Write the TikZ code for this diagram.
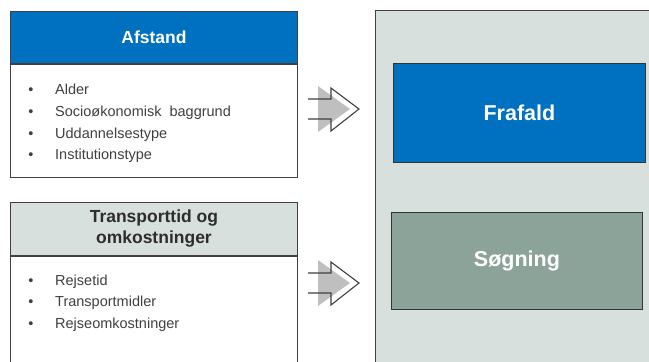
\documentclass[tikz,border=0pt]{standalone}
\usepackage{fontspec}
\setmainfont{Liberation Sans}
\usetikzlibrary{positioning,calc}
\definecolor{HeadBlue}{RGB}{0,112,192}
\definecolor{PaleGreen}{RGB}{216,224,221}
\definecolor{SageGray}{RGB}{140,163,154}
\definecolor{TextGray}{RGB}{64,64,64}
\definecolor{ShadeGray}{RGB}{191,191,191}
\tikzset{
  frame/.style={draw=TextGray,line width=0.9pt},
  head/.style={frame,anchor=north west,minimum width=287pt,inner sep=0pt,
    font=\fontsize{17.5}{21}\selectfont\bfseries,align=center},
  body/.style={frame,fill=white,anchor=north west,minimum width=287pt,inner sep=0pt},
  dot/.style={anchor=base,text=TextGray,inner sep=0pt,font=\fontsize{14.5}{17}\selectfont},
  item/.style={anchor=base west,text=TextGray,inner sep=0pt,font=\fontsize{14.5}{17}\selectfont},
  result/.style={draw=TextGray!80!black,line width=0.9pt,anchor=north west,inner sep=0pt,
    text=white,font=\fontsize{21.5}{25}\selectfont\bfseries},
  shade/.style={fill=ShadeGray},
  blockarrow/.style={draw=TextGray,line width=1.1pt,line join=miter},
}

\begin{document}
\begin{tikzpicture}[x=1pt,y=-1pt]
\useasboundingbox (0,0) rectangle (649,362);
\clip (0,0) rectangle (649,362);
\fill[white] (0,0) rectangle (649,362);
% right panel
\node[frame,fill=PaleGreen,anchor=north west,minimum width=290pt,minimum height=370pt,inner sep=0pt] (panel) at (375,10) {};
\node[result,fill=HeadBlue,minimum width=252pt,minimum height=99pt] (frafald) at (393,63) {Frafald};
\node[result,fill=SageGray,minimum width=251pt,minimum height=97pt] (soegning) at (391,212) {Søgning};
% left boxes
\node[head,fill=HeadBlue,text=white,minimum height=52pt] (afstand) at (10,11) {Afstand};
\node[body,minimum height=113pt] (afstandbody) at (afstand.south west) {};
\node[head,fill=PaleGreen,text=TextGray!70!black,minimum height=53pt] (transport) at (10,202) {Transporttid og\\omkostninger};
\node[body,minimum height=130pt] (transportbody) at (transport.south west) {};
% bullet lists (baselines)
\foreach \txt/\y [count=\i] in {Alder/94,Socioøkonomisk\ \ baggrund/116,Uddannelsestype/138,Institutionstype/159}{
  \node[dot] (ad\i) at (31,\y) {\textbullet};
  \node[item] (ai\i) at (55,\y) {\txt};
}
\foreach \txt/\y [count=\i] in {Rejsetid/285,Transportmidler/306,Rejseomkostninger/328}{
  \node[dot] (td\i) at (31,\y) {\textbullet};
  \node[item] (ti\i) at (55,\y) {\txt};
}
% arrows
\coordinate (arrA) at (308,109);
\coordinate (arrB) at (308,283);
\foreach \a in {arrA,arrB}{
  \fill[shade] ($(\a)+(10,-23)$) -- ($(\a)+(42,0)$) -- ($(\a)+(10,23)$) -- cycle;
  \draw[blockarrow] ($(\a)+(0,-10)$) -- ++(23,0) -- ++(0,-11) -- ($(\a)+(51,0)$)
    -- ($(\a)+(23,22)$) -- ++(0,-12) -- ++(-23,0);
}
\end{tikzpicture}
\end{document}
